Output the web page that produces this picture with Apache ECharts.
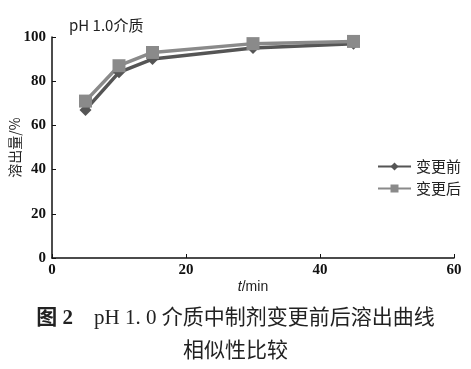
<!DOCTYPE html>
<html><head><meta charset="utf-8">
<script src="https://cdn.jsdelivr.net/npm/echarts@6/dist/echarts.min.js"></script>
<style>html,body{margin:0;padding:0;background:#fff}#c{width:471px;height:369px}</style>
</head><body><div id="c"></div>
<script>
var times = [5, 10, 15, 30, 45];
var before = [67, 84, 90, 95, 97];
var after = [71, 87, 93, 97, 98];
var xTicks = [0, 20, 40, 60];
var yTicks = [0, 20, 40, 60, 80, 100];
var seriesNames = ['变更前', '变更后'];

function pairs(xs, ys){ return xs.map(function(x,i){return [x, ys[i]];}); }

var chart = echarts.init(document.getElementById('c'));
var tickFont = {fontFamily:'Liberation Serif', fontWeight:'bold', fontSize:15, color:'#111'};
chart.setOption({
  animation:false,
  grid:{left:52, right:17, top:37, bottom:111, containLabel:false, outerBoundsMode:'none'},
  title:[
    {text:'pH 1.0介质', left:64, top:13, textStyle:{fontFamily:'Noto Sans CJK SC', fontSize:15, fontWeight:'normal', color:'#222'}},
    {text:'{b|图 2}    pH 1. 0 介质中制剂变更前后溶出曲线', left:'center', top:303,
      textStyle:{fontFamily:'Liberation Serif, Noto Sans CJK SC', fontSize:21, fontWeight:'normal', color:'#222',
        rich:{b:{fontFamily:'Liberation Serif, Noto Sans CJK SC', fontWeight:'bold', fontSize:21, color:'#222'}}}},
    {text:'相似性比较', left:'center', top:334, textStyle:{fontFamily:'Noto Sans CJK SC', fontSize:21, fontWeight:'normal', color:'#222'}}
  ],
  legend:{
    data:seriesNames, orient:'vertical', left:372, top:154, itemWidth:33, itemHeight:10, itemGap:7,
    textStyle:{fontFamily:'Noto Sans CJK SC', fontSize:15, color:'#222'}
  },
  xAxis:{
    type:'value', min:0, max:60, interval:20,
    name:'{i|t}/min', nameLocation:'middle', nameGap:22, nameMoveOverlap:false,
    nameTextStyle:{fontFamily:'Liberation Sans', fontSize:14, color:'#222', rich:{i:{fontStyle:'italic', fontFamily:'Liberation Sans', fontSize:14, color:'#222'}}},
    axisLine:{lineStyle:{color:'#111', width:1.5}},
    axisTick:{inside:true, length:4, lineStyle:{color:'#111'}},
    axisLabel:Object.assign({margin:5}, tickFont),
    splitLine:{show:false}
  },
  yAxis:{
    type:'value', min:0, max:100, interval:20,
    name:'溶出量/%', nameLocation:'middle', nameGap:30, nameRotate:90, nameMoveOverlap:false,
    nameTextStyle:{fontFamily:'Noto Sans CJK SC', fontSize:14, color:'#222'},
    axisLine:{show:true, lineStyle:{color:'#111', width:1.5}},
    axisTick:{show:true, inside:true, length:4, lineStyle:{color:'#111'}},
    axisLabel:Object.assign({margin:6}, tickFont),
    splitLine:{show:false}
  },
  series:[
    {name:seriesNames[0], type:'line', data:pairs(times, before), symbol:'diamond', symbolSize:12,
      lineStyle:{color:'#555', width:3.5}, itemStyle:{color:'#555'}},
    {name:seriesNames[1], type:'line', data:pairs(times, after), symbol:'rect', symbolSize:13,
      lineStyle:{color:'#8a8a8a', width:3.5}, itemStyle:{color:'#8a8a8a'}}
  ]
});
</script></body></html>
